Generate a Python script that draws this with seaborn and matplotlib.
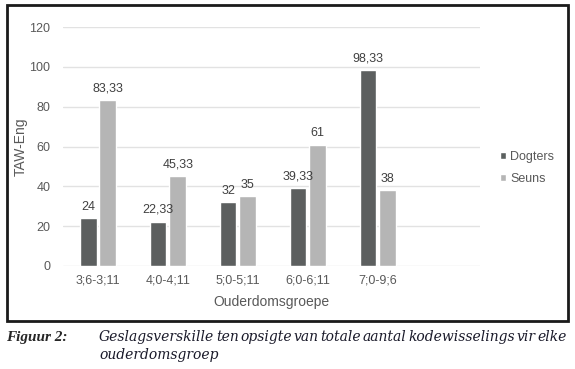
import seaborn as sns
import matplotlib.pyplot as plt
import pandas as pd
from matplotlib.patches import Rectangle

# Data
groups = ["3;6-3;11", "4;0-4;11", "5;0-5;11", "6;0-6;11", "7;0-9;6"]
dogters = [24, 22.33, 32, 39.33, 98.33]
seuns = [83.33, 45.33, 35, 61, 38]
series = ["Dogters", "Seuns"]
colors = ["#5b605f", "#b5b5b5"]

df = pd.DataFrame({
    "Groep": groups * 2,
    "Waarde": dogters + seuns,
    "Geslag": [series[0]] * len(groups) + [series[1]] * len(groups),
})

sns.set_style("white")
plt.rcParams["font.family"] = ["Liberation Sans", "DejaVu Sans"]
text_col = "#595959"

W, H = 575, 369
fig = plt.figure(figsize=(W / 100, H / 100), dpi=100)
ax = fig.add_axes([63 / W, (H - 266) / H, (480 - 63) / W, (266 - 27) / H])

sns.barplot(data=df, x="Groep", y="Waarde", hue="Geslag", palette=colors,
            width=0.56, gap=0.15, ax=ax, legend=False)

# Data labels with comma decimals
for cont in ax.containers:
    labels = [f"{v:g}".replace(".", ",") for v in cont.datavalues]
    ax.bar_label(cont, labels=labels, padding=4, fontsize=9, color="#404040")

ax.set_ylim(0, 120)
ax.set_yticks(range(0, 121, 20))
ax.set_xlim(-0.5, 5.46)
ax.yaxis.grid(True, color="#e2e2e2", linewidth=1)
ax.set_axisbelow(True)
for s in ax.spines.values():
    s.set_visible(False)
ax.tick_params(axis="both", length=0, labelsize=9, labelcolor=text_col)
ax.tick_params(axis="x", pad=6)
ax.tick_params(axis="y", pad=9)
ax.set_xlabel("Ouderdomsgroepe", fontsize=10, color=text_col, labelpad=6)
ax.set_ylabel("TAW-Eng", fontsize=10, color=text_col)
ax.yaxis.set_label_coords((28 - 63) / (480 - 63), 0.5)

# Legend
handles = [Rectangle((0, 0), 1, 1, facecolor=c) for c in colors]
fig.legend(handles, series, loc="center left", bbox_to_anchor=(500 / W, 1 - 168 / H),
           frameon=False, fontsize=9, handlelength=0.5, handleheight=0.5,
           handletextpad=0.3, labelspacing=0.85, borderpad=0, borderaxespad=0,
           labelcolor=text_col)

# Outer frame
fig.patches.append(Rectangle((6.5 / W, 1 - 320.5 / H), (567.5 - 6.5) / W, (320.5 - 4.5) / H,
                             transform=fig.transFigure, fill=False,
                             edgecolor="#1a1a1a", linewidth=2))

# Caption (first line justified between x=99 and x=567)
fig.text(6 / W, 1 - 337 / H, "Figuur 2:", fontsize=11, style="italic", weight="bold",
         family=["Liberation Serif", "DejaVu Serif"], va="center", ha="left")
cap_font = ["DejaVu Serif"]
line1 = "Geslagsverskille ten opsigte van totale aantal kodewisselings vir elke".split()
renderer = fig.canvas.get_renderer()
words = [fig.text(0, 1 - 337 / H, w, fontsize=10, style="italic", family=cap_font,
                  va="center", ha="left", color="#1a1a2a") for w in line1]
widths = [t.get_window_extent(renderer).width for t in words]
space = (567 - 99 - sum(widths)) / (len(words) - 1)
x = 99
for t, w in zip(words, widths):
    t.set_x(x / W)
    x += w + space
fig.text(99 / W, 1 - 355 / H, "ouderdomsgroep", fontsize=10, style="italic",
         family=cap_font, va="center", ha="left", color="#1a1a2a")

fig.savefig("out.png", dpi=100)
